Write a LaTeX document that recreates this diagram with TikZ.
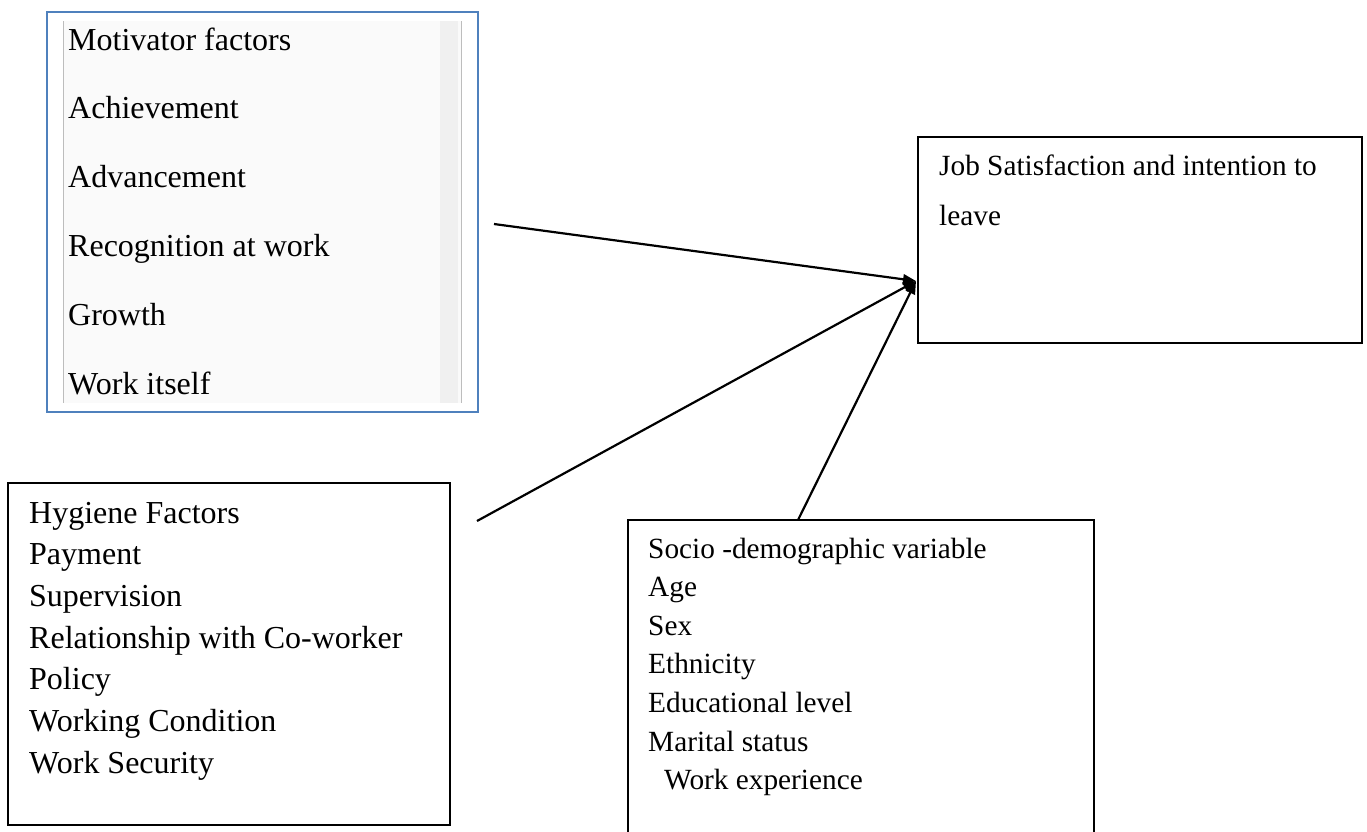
\documentclass[tikz,border=0pt]{standalone}
\usepackage{fontspec}
\setmainfont{Liberation Serif}
\usetikzlibrary{arrows.meta}
\definecolor{motblue}{HTML}{4F81BD}
\definecolor{panegray}{HTML}{FAFAFA}
\definecolor{bandgray}{HTML}{F0F0F0}
\definecolor{rulegray}{HTML}{BDBDBD}

\begin{document}
\begin{tikzpicture}[x=1pt,y=-1pt,
  boxframe/.style={draw=black,line width=1.5pt,inner sep=0pt,rectangle},
  bigtext/.style={font=\fontsize{32}{38}\selectfont,anchor=base west,inner sep=0pt},
  smalltext/.style={font=\fontsize{29.3}{35}\selectfont,anchor=base west,inner sep=0pt},
  link/.style={line width=2.2pt,-{Triangle[length=13pt,width=10pt]}}]
  \clip (0,0) rectangle (1367,831);
  \fill[white] (0,0) rectangle (1367,831);

  \fill[panegray] (63,21) rectangle (462,403);
  \fill[bandgray] (440,21) rectangle (458,403);
  \draw[rulegray,line width=1pt] (63,21) -- (63,403);
  \draw[rulegray,line width=1pt] (461,21) -- (461,403);

  \node[boxframe,draw=motblue,minimum width=431pt,minimum height=400pt] (motiv) at (262.5,212) {};
  \node[boxframe,minimum width=444pt,minimum height=206pt] (job) at (1140,240) {};
  \node[boxframe,minimum width=442pt,minimum height=342pt] (hyg) at (229,654) {};
  \node[boxframe,minimum width=466pt,minimum height=350pt] (socio) at (861,695) {};

  \foreach \txt [count=\i from 0] in {Motivator factors,Achievement,Advancement,Recognition at work,Growth,Work itself}
    \node[bigtext] (mot\i) at (68,50+68.8*\i) {\txt};
  \foreach \txt [count=\i from 0] in {Hygiene Factors,Payment,Supervision,Relationship with Co-worker,Policy,Working Condition,Work Security}
    \node[bigtext] (hyg\i) at (29,523+41.7*\i) {\txt};
  \foreach \txt [count=\i from 0] in {Socio -demographic variable,Age,Sex,Ethnicity,Educational level,Marital status}
    \node[smalltext] (soc\i) at (648,558+38.6*\i) {\txt};
  \node[smalltext] (soc6) at (664,789.6) {Work experience};
  \node[smalltext] (job0) at (939,175) {Job Satisfaction and intention to};
  \node[smalltext] (job1) at (939,225) {leave};

  \coordinate (motout) at (494,224);
  \coordinate (hygout) at (477,521);
  \coordinate (socout) at (798,520);
  \coordinate (jobin) at (916,281);
  \draw[link] (motout) -- (jobin);
  \draw[link] (hygout) -- (jobin);
  \draw[link] (socout) -- (jobin);
\end{tikzpicture}
\end{document}
